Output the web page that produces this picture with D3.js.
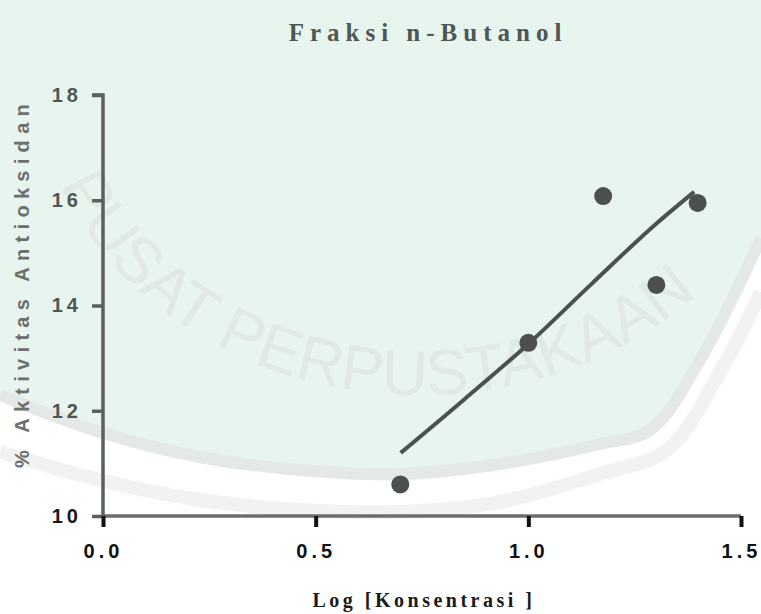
<!DOCTYPE html>
<html>
<head>
<meta charset="utf-8">
<script src="https://cdn.jsdelivr.net/npm/d3@7"></script>
<style>
  body { margin: 0; background: #fff; }
  svg { display: block; }
</style>
</head>
<body>
<div id="chart"></div>
<script>
// data
let logKonsentrasi = [0.699, 1.0, 1.176, 1.301, 1.398];
let aktivitas = [10.6, 13.29, 16.08, 14.39, 15.95];

// fitted curve as drawn (read at a few x positions)
let fitX = [0.70, 0.85, 1.00, 1.15, 1.30, 1.39];
let fitY = [11.2, 12.22, 13.27, 14.42, 15.55, 16.16];

let xTicks = [0.0, 0.5, 1.0, 1.5];
let yTicks = [10, 12, 14, 16, 18];

let width = 761, height = 614;
let margin = {left: 103, right: 20, top: 95, bottom: 98};

let svg = d3.select("#chart").append("svg")
  .attr("width", width)
  .attr("height", height);

// watermark-ish background
let bg = svg.append("g");
bg.append("rect").attr("width", width).attr("height", height).attr("fill", "#ffffff");

let edge = d3.line().curve(d3.curveCatmullRom);
let inner = [[0, 395], [100, 432], [200, 457], [300, 470], [400, 474], [500, 464], [600, 444], [650, 430], [700, 360], [761, 238]];
let outer = [[0, 452], [100, 480], [200, 500], [300, 510], [400, 512], [500, 502], [600, 474], [667, 450], [720, 372], [761, 292]];

bg.append("path")
  .attr("d", edge(inner) + "L761,0L0,0Z")
  .attr("fill", "#e8f5ee");
bg.append("path")
  .attr("d", edge(inner))
  .attr("fill", "none")
  .attr("stroke", "#e4e9e5")
  .attr("stroke-width", 12);
bg.append("path")
  .attr("d", edge(outer))
  .attr("fill", "none")
  .attr("stroke", "#f1f3f1")
  .attr("stroke-width", 14);

// faint arc text
bg.append("path")
  .attr("id", "arc")
  .attr("d", "M 30,55 A 390,340 0 0 0 810,55")
  .attr("fill", "none");
bg.append("text")
  .attr("font-family", "Liberation Sans, Arial, sans-serif")
  .attr("font-size", 64)
  .attr("fill", "#e0e9e3")
  .append("textPath")
  .attr("href", "#arc")
  .attr("startOffset", 135)
  .text("PUSAT PERPUSTAKAAN");

// scales
let x = d3.scaleLinear()
  .domain([0, 1.5])
  .range([margin.left, width - margin.right]);

let y = d3.scaleLinear()
  .domain([10, 18])
  .range([height - margin.bottom, margin.top]);

// axes
let yAxis = svg.append("g")
  .attr("transform", `translate(${margin.left},0)`)
  .call(d3.axisLeft(y).tickValues(yTicks).tickSize(11).tickPadding(10).tickFormat(d3.format("d")));
yAxis.select(".domain").attr("stroke", "#5a605c").attr("stroke-width", 3.5)
  .attr("d", `M-11,${y(18)}H0V${y(10)}`);
yAxis.selectAll(".tick line").attr("stroke", "#5a605c").attr("stroke-width", 3.5);
yAxis.selectAll(".tick text")
  .attr("font-family", "Liberation Sans, Arial, sans-serif")
  .attr("font-weight", "bold")
  .attr("font-size", 20)
  .attr("letter-spacing", 4)
  .attr("fill", (d) => d === 10 ? "#1a1a1a" : "#4f5752");

let xAxis = svg.append("g")
  .attr("transform", `translate(0,${height - margin.bottom})`)
  .call(d3.axisBottom(x).tickValues(xTicks).tickSize(11).tickPadding(17).tickFormat(d3.format(".1f")));
xAxis.select(".domain").attr("stroke", "#6a6e6b").attr("stroke-width", 3.5)
  .attr("d", `M${x(0)},0H${x(1.5)}`);
xAxis.selectAll(".tick line").attr("stroke", "#111").attr("stroke-width", 4);
xAxis.selectAll(".tick text")
  .attr("font-family", "Liberation Sans, Arial, sans-serif")
  .attr("font-weight", "bold")
  .attr("font-size", 20)
  .attr("letter-spacing", 4)
  .attr("fill", "#111");

// fitted line
svg.append("path")
  .datum(fitX.map((d, i) => [d, fitY[i]]))
  .attr("fill", "none")
  .attr("stroke", "#4a524e")
  .attr("stroke-width", 4)
  .attr("d", d3.line().x((d) => x(d[0])).y((d) => y(d[1])).curve(d3.curveMonotoneX));

// points
svg.selectAll("circle.pt")
  .data(logKonsentrasi)
  .enter()
  .append("circle")
  .attr("class", "pt")
  .attr("cx", (d) => x(d))
  .attr("cy", (d, i) => y(aktivitas[i]))
  .attr("r", 9)
  .attr("fill", "#4b504d");

// titles
svg.append("text")
  .attr("x", 428)
  .attr("y", 41)
  .attr("text-anchor", "middle")
  .attr("font-family", "Liberation Serif, Times New Roman, serif")
  .attr("font-weight", "bold")
  .attr("font-size", 25)
  .attr("letter-spacing", 6)
  .attr("fill", "#4f5752")
  .text("Fraksi n-Butanol");

svg.append("text")
  .attr("x", 424)
  .attr("y", 607)
  .attr("text-anchor", "middle")
  .attr("font-family", "Liberation Serif, Times New Roman, serif")
  .attr("font-weight", "bold")
  .attr("font-size", 20)
  .attr("letter-spacing", 3.5)
  .attr("fill", "#1a1a1a")
  .text("Log [Konsentrasi ]");

svg.append("text")
  .attr("transform", `translate(29,283) rotate(-90)`)
  .attr("text-anchor", "middle")
  .attr("font-family", "Liberation Sans, Arial, sans-serif")
  .attr("font-weight", "bold")
  .attr("font-size", 20)
  .attr("letter-spacing", 6.3)
  .attr("fill", "#6b706d")
  .text("% Aktivitas Antioksidan");
</script>
</body>
</html>
